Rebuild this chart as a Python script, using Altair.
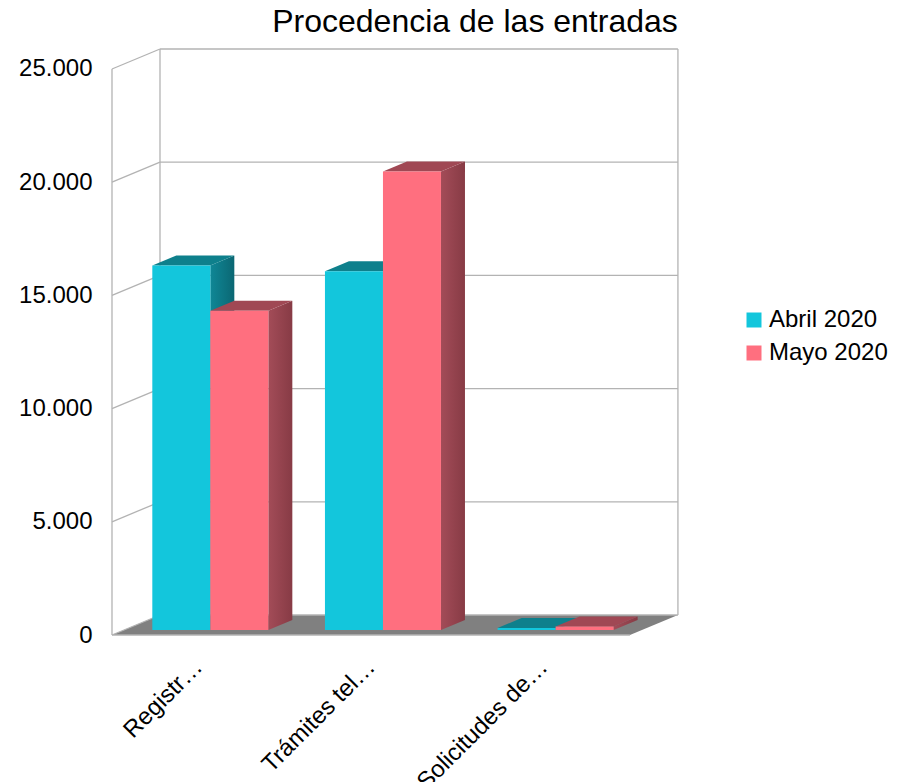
import json
import altair as alt
import pandas as pd

# ---- data ----
categories = ["Registr…", "Trámites tel…", "Solicitudes de…"]
series = ["Abril 2020", "Mayo 2020"]
abril = [16100, 15850, 90]
mayo = [14100, 20250, 150]
y_ticks = [0, 5000, 10000, 15000, 20000, 25000]

# ---- styling ----
front_colors = ["#13c6dc", "#ff6f7f"]
top_colors = ["#0e808c", "#a04854"]
side_stops = [["#0f8796", "#0b6773"], ["#a34c58", "#873b45"]]
FONT = "Liberation Sans"
GRID = "#b3b3b3"

# 3D depth of the plot box (x in category units, y in value units)
DX = 0.278
DY = 883
BW = 0.336          # bar width in category units
F0, F1 = 0.25, 0.75  # bar front/back depth fraction
YMAX = 25000
XMAX = 3.29

front_rows, top_rows, side_rows = [], [], []
for i, cat in enumerate(categories):
    c = i + 0.5
    for s, (name, vals) in enumerate(zip(series, [abril, mayo])):
        v = vals[i]
        xl = c - BW + s * BW
        xr = xl + BW
        bid = f"{i}-{s}"
        front_rows.append(dict(bar=bid, series=name, x=xl + F0 * DX, x2=xr + F0 * DX,
                               y=F0 * DY, y2=v + F0 * DY))
        for f in (F0, F1):
            top_rows.append(dict(bar=bid, series=name, y=v + f * DY,
                                 x=xl + f * DX, x2=xr + f * DX))
            side_rows.append(dict(bar=bid, series=name, x=xr + f * DX,
                                  y=f * DY, y2=v + f * DY))

front = pd.DataFrame(front_rows)
top = pd.DataFrame(top_rows)
side = pd.DataFrame(side_rows)

n = len(categories)
floor = pd.DataFrame([dict(y=0, x=0, x2=n), dict(y=DY, x=DX, x2=n + DX)])
back_grid = pd.DataFrame([dict(x=DX, x2=n + DX, y=v + DY, y2=v + DY) for v in y_ticks])
left_grid = pd.DataFrame([dict(x=0, x2=DX, y=v, y2=v + DY) for v in y_ticks])
edges = pd.DataFrame([
    dict(x=0, x2=0, y=0, y2=YMAX),
    dict(x=DX, x2=DX, y=DY, y2=YMAX + DY),
    dict(x=n + DX, x2=n + DX, y=DY, y2=YMAX + DY),
    dict(x=0, x2=n, y=0, y2=0),
])

xs = alt.Scale(domain=[0, XMAX], nice=False, zero=False)
ys = alt.Scale(domain=[0, YMAX + DY], nice=False, zero=False)

label_expr = json.dumps(categories, ensure_ascii=False) + "[floor(datum.value)]"

x_axis = alt.Axis(values=[i + 0.5 for i in range(n)], labelExpr=label_expr,
                  labelAngle=-45, labelAlign="right", labelBaseline="middle",
                  labelFontSize=24, labelFont=FONT, labelColor="black",
                  labelPadding=28, domain=False, ticks=False, grid=False, title=None)
y_axis = alt.Axis(values=y_ticks,
                  labelExpr="replace(format(datum.value, ','), ',', '.')",
                  labelFontSize=24, labelFont=FONT, labelColor="black",
                  labelPadding=20, domain=False, ticks=False, grid=False, title=None)


def X(field, **kw):
    return alt.X(field, scale=xs, axis=x_axis, **kw)


def Y(field, **kw):
    return alt.Y(field, scale=ys, axis=y_axis, **kw)


floor_layer = alt.Chart(floor).mark_area(orient="horizontal", color="#808080").encode(
    y=Y("y:Q"),
    x=X("x:Q", stack=None),
    x2="x2:Q",
)

rule_enc = dict(x=X("x:Q"), x2="x2:Q", y=Y("y:Q"), y2="y2:Q")
back_layer = alt.Chart(back_grid).mark_rule(color=GRID, strokeWidth=1.3).encode(**rule_enc)
left_layer = alt.Chart(left_grid).mark_rule(color=GRID, strokeWidth=1.3).encode(**rule_enc)
edge_layer = alt.Chart(edges).mark_rule(color=GRID, strokeWidth=1.3).encode(**rule_enc)

side_layers = []
top_layers = []
for s, name in enumerate(series):
    grad = alt.Gradient(
        gradient="linear",
        stops=[alt.GradientStop(color=side_stops[s][0], offset=0),
               alt.GradientStop(color=side_stops[s][1], offset=1)],
        x1=0, x2=1, y1=0, y2=0,
    )
    side_layers.append(
        alt.Chart(side[side.series == name]).mark_area(orient="vertical", color=grad).encode(
            x=X("x:Q"),
            y=Y("y:Q", stack=None),
            y2="y2:Q",
            detail="bar:N",
        )
    )
    top_layers.append(
        alt.Chart(top[top.series == name]).mark_area(orient="horizontal", color=top_colors[s]).encode(
            y=Y("y:Q"),
            x=X("x:Q", stack=None),
            x2="x2:Q",
            detail="bar:N",
        )
    )

front_layer = alt.Chart(front).mark_rect().encode(
    x=X("x:Q"),
    x2="x2:Q",
    y=Y("y:Q"),
    y2="y2:Q",
    color=alt.Color(
        "series:N",
        scale=alt.Scale(domain=series, range=front_colors),
        legend=alt.Legend(title=None, orient="none", legendX=630, legendY=259,
                          symbolType="square", symbolSize=225, symbolStrokeWidth=0,
                          labelFontSize=24, labelFont=FONT, labelColor="black",
                          rowPadding=9, labelOffset=3),
    ),
)

chart = alt.layer(
    floor_layer, back_layer, left_layer, edge_layer,
    *side_layers, *top_layers, front_layer,
).properties(
    width=568,
    height=586,
    padding={"left": 112, "top": 49, "right": 219, "bottom": 147},
    autosize=alt.AutoSizeParams(type="none"),
    background="white",
    title=alt.TitleParams("Procedencia de las entradas", fontSize=32, font=FONT,
                          fontWeight="normal", color="black", anchor="middle",
                          dx=79, offset=9),
).configure_view(stroke=None)

chart.save("out.html", embed_options={"renderer": "svg", "actions": False})
